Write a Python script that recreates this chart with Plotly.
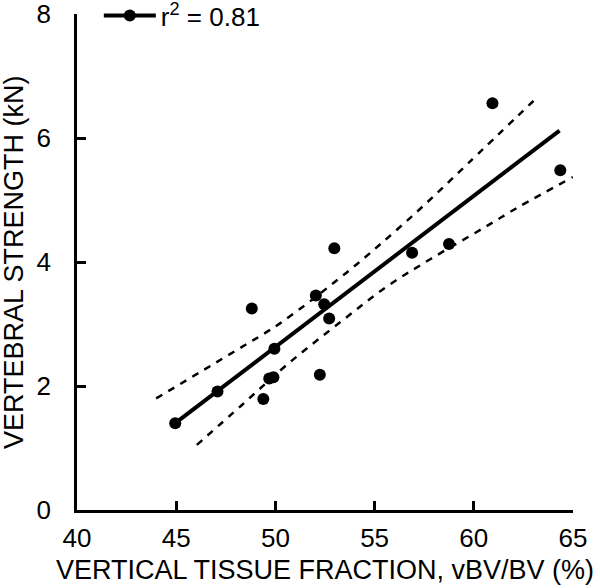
import plotly.graph_objects as go

# measured data points (vertical tissue fraction %, vertebral strength kN)
vtf = [44.95, 47.08, 48.81, 49.39, 49.69, 49.90, 49.95, 52.04, 52.24, 52.46,
       52.71, 52.97, 56.89, 58.75, 60.94, 64.36]
strength = [1.40, 1.91, 3.25, 1.79, 2.12, 2.14, 2.60, 3.46, 2.18, 3.32,
            3.09, 4.22, 4.15, 4.29, 6.56, 5.48]

# regression line
fit_x = [44.95, 64.32]
fit_y = [1.40, 6.12]

# confidence bands
upper_x = [43.99, 48.05, 50.23, 53.55, 55.23, 57.44, 59.71, 63.01]
upper_y = [1.80, 2.58, 3.01, 3.82, 4.27, 4.90, 5.59, 6.60]
lower_x = [46.04, 48.30, 50.57, 53.39, 55.60, 57.78, 60.55, 62.22, 64.99]
lower_y = [1.05, 1.69, 2.34, 3.06, 3.60, 4.04, 4.56, 4.88, 5.37]

x_ticks = [40, 45, 50, 55, 60, 65]
y_ticks = [0, 2, 4, 6, 8]
legend_label = "r<sup>2</sup> = 0.81"
x_title = "VERTICAL TISSUE FRACTION, vBV/BV (%)"
y_title = "VERTEBRAL STRENGTH (kN)"

FONT = "Liberation Sans, Arial, Helvetica, sans-serif"

fig = go.Figure()
fig.add_trace(go.Scatter(x=upper_x, y=upper_y, mode="lines", showlegend=False,
                         line=dict(color="black", width=2.5, dash="7px,7px", shape="spline")))
fig.add_trace(go.Scatter(x=lower_x, y=lower_y, mode="lines", showlegend=False,
                         line=dict(color="black", width=2.5, dash="7px,7px", shape="spline")))
fig.add_trace(go.Scatter(x=fit_x, y=fit_y, mode="lines", showlegend=False,
                         line=dict(color="black", width=4)))
fig.add_trace(go.Scatter(x=vtf, y=strength, mode="markers", showlegend=False,
                         marker=dict(color="black", size=12)))
fig.add_trace(go.Scatter(x=[None], y=[None], mode="lines+markers", name=legend_label,
                         line=dict(color="black", width=4),
                         marker=dict(color="black", size=12)))

fig.update_layout(
    width=600, height=588,
    margin=dict(l=77, r=27, t=14, b=78, autoexpand=False),
    paper_bgcolor="white", plot_bgcolor="white",
    font=dict(family=FONT, size=26, color="black"),
    showlegend=True,
    legend=dict(x=0.044, y=0.997, xanchor="left", yanchor="middle",
                bgcolor="rgba(0,0,0,0)", font=dict(size=26),
                itemwidth=52),
    xaxis=dict(range=[40, 65], tickvals=x_ticks, ticks="inside", ticklen=9,
               tickwidth=2.5, tickcolor="black", showline=True, linecolor="black",
               linewidth=2.5, showgrid=False, zeroline=False, automargin=False,
               tickfont=dict(size=26), ticklabelstandoff=3,
               ticklabeloverflow="allow"),
    yaxis=dict(range=[0, 8], tickvals=y_ticks, ticks="inside", ticklen=9,
               tickwidth=2.5, tickcolor="black", showline=True, linecolor="black",
               linewidth=2.5, showgrid=False, zeroline=False, automargin=False,
               tickfont=dict(size=26), ticklabelstandoff=18,
               ticklabeloverflow="allow"),
    annotations=[
        dict(text=x_title, xref="paper", yref="paper", x=0.5, y=-0.121,
             xanchor="center", yanchor="middle", showarrow=False,
             font=dict(size=27)),
        dict(text=y_title, xref="paper", yref="paper", x=-0.127, y=0.5,
             xanchor="center", yanchor="middle", showarrow=False, textangle=-90,
             font=dict(size=27)),
    ],
)

fig.write_html("out.html", config={"displayModeBar": False},
               post_script="document.body.style.margin='0';document.body.style.padding='0';")
